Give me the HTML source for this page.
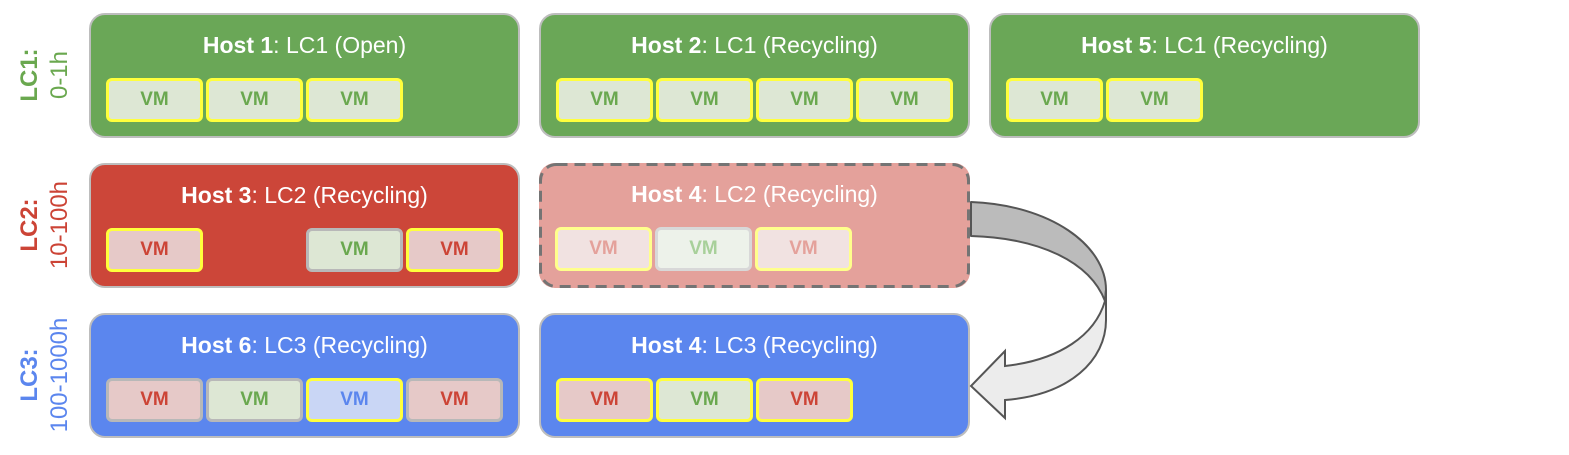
<!DOCTYPE html>
<html><head><meta charset="utf-8"><style>
body{margin:0;width:1569px;height:450px;background:#fff;font-family:"Liberation Sans",Arial,sans-serif;position:relative;overflow:hidden}
.h{position:absolute;width:431px;height:125px;border-radius:16px;box-sizing:border-box;border:2px solid #bdbdbd}
.t{position:absolute;top:17px;left:0;right:0;text-align:center;color:#fff;font-size:23px}
.t b{font-weight:bold}
.vm{position:absolute;top:63px;width:97px;height:44px;box-sizing:border-box;border:3px solid #ffff3c;border-radius:6px;font-weight:bold;font-size:19px;text-align:center;line-height:38px}
.g{background:#dde7d4;color:#6aa84f}.r{background:#e6c9c8;color:#cc4436}.b{background:#c9d6f5;color:#5b86ee}
.gr{border-color:#b8b8b8}
.lab{position:absolute;width:160px;height:60px;transform:rotate(-90deg);transform-origin:center;text-align:center;white-space:nowrap;font-size:24px;line-height:30px}
</style></head><body>
<div class="lab" style="left:-35px;top:45px;color:#6aa84f"><b>LC1:</b><br>0-1h</div>
<div class="lab" style="left:-35px;top:195px;color:#cc4436"><b>LC2:</b><br>10-100h</div>
<div class="lab" style="left:-35px;top:345px;color:#5b86ee"><b>LC3:</b><br>100-1000h</div>

<div class="h" style="left:89px;top:13px;background:#6aa757">
<div class="t"><b>Host 1</b>: LC1 (Open)</div>
<div class="vm g" style="left:15px">VM</div><div class="vm g" style="left:115px">VM</div><div class="vm g" style="left:215px">VM</div></div>
<div class="h" style="left:539px;top:13px;background:#6aa757">
<div class="t"><b>Host 2</b>: LC1 (Recycling)</div>
<div class="vm g" style="left:15px">VM</div><div class="vm g" style="left:115px">VM</div><div class="vm g" style="left:215px">VM</div><div class="vm g" style="left:315px">VM</div></div>
<div class="h" style="left:989px;top:13px;background:#6aa757">
<div class="t"><b>Host 5</b>: LC1 (Recycling)</div>
<div class="vm g" style="left:15px">VM</div><div class="vm g" style="left:115px">VM</div></div>

<div class="h" style="left:89px;top:163px;background:#cc4639">
<div class="t"><b>Host 3</b>: LC2 (Recycling)</div>
<div class="vm r" style="left:15px">VM</div><div class="vm g gr" style="left:215px">VM</div><div class="vm r" style="left:315px">VM</div></div>
<div class="h" style="left:539px;top:163px;background:#e4a19b;border:none">
<svg style="position:absolute;left:0;top:0" width="431" height="125"><rect x="1.5" y="1.5" width="428" height="122" rx="16" fill="none" stroke="#747474" stroke-width="3" stroke-dasharray="11,7"/></svg>
<div class="t" style="top:18px"><b>Host 4</b>: LC2 (Recycling)</div>
<div class="vm" style="left:16px;top:64px;background:#f1e2e1;color:#e4a19b;border-color:#ffff8c">VM</div>
<div class="vm" style="left:116px;top:64px;background:#edf2ea;color:#a8d09a;border-color:#d8d8d8">VM</div>
<div class="vm" style="left:216px;top:64px;background:#f1e2e1;color:#e4a19b;border-color:#ffff8c">VM</div></div>

<div class="h" style="left:89px;top:313px;background:#5b86ee">
<div class="t"><b>Host 6</b>: LC3 (Recycling)</div>
<div class="vm r gr" style="left:15px">VM</div><div class="vm g gr" style="left:115px">VM</div><div class="vm b" style="left:215px">VM</div><div class="vm r gr" style="left:315px">VM</div></div>
<div class="h" style="left:539px;top:313px;background:#5b86ee">
<div class="t"><b>Host 4</b>: LC3 (Recycling)</div>
<div class="vm r" style="left:15px">VM</div><div class="vm g" style="left:115px">VM</div><div class="vm r" style="left:215px">VM</div></div>

<svg style="position:absolute;left:0;top:0" width="1569" height="450">
<path d="M971,202 C1050,205 1106,245 1106,290 L1105,301 C1090,262 1040,238 971,236 Z" fill="#bbb" stroke="#555" stroke-width="2" stroke-linejoin="round"/>
<path d="M1105,301 C1095,335 1060,360 1005,366 L1005,351 L971,386 L1005,418 L1005,400 C1070,395 1106,360 1106,320 L1106,290 Z" fill="#ececec" stroke="#555" stroke-width="2" stroke-linejoin="miter"/>
</svg>
</body></html>
